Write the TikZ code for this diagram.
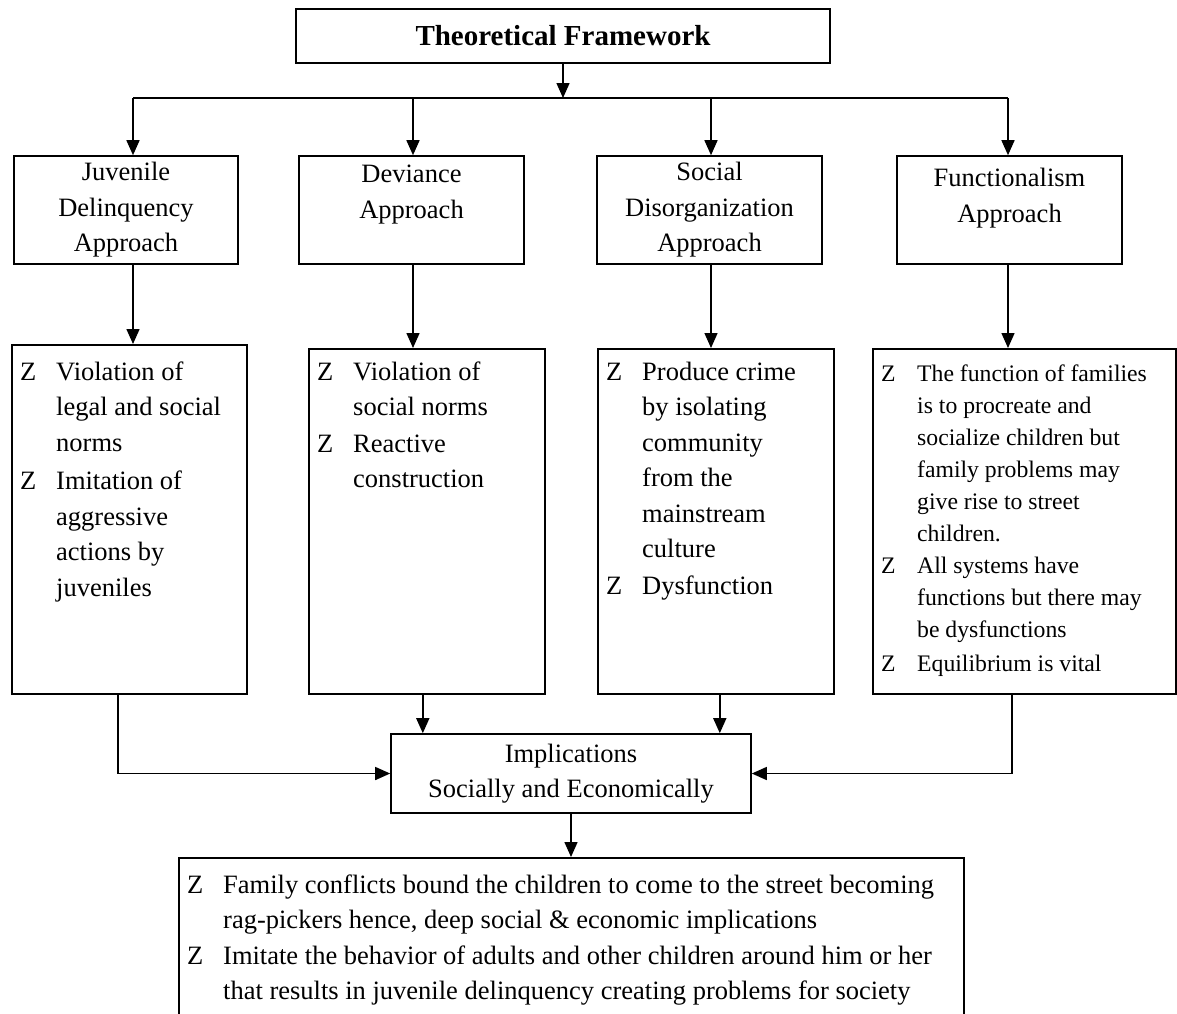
\documentclass[tikz,border=0pt]{standalone}
\usepackage{fontspec}
\setmainfont{Liberation Serif}
\usepackage{tikz}
\usetikzlibrary{positioning,arrows.meta}

\begin{document}
\begin{tikzpicture}[
  x=1pt,y=-1pt,
  font=\fontsize{26.5}{35.5}\selectfont,
  box/.style={draw,line width=1.6pt,inner sep=0pt,align=center},
  frame/.style={draw,line width=1.6pt,inner sep=0pt,anchor=north west},
  lst/.style={inner sep=0pt,anchor=north west,align=left},
  ar/.style={-{Triangle[length=15pt,width=13pt]},line width=1.5pt},
]
\path[use as bounding box,clip] (0,0) rectangle (1177,1013);
% top
\node[box,minimum width=534pt,minimum height=54pt,font=\bfseries\fontsize{29}{34}\selectfont] (tf) at (563,36) {Theoretical Framework};
\coordinate (b1) at (133,98);
\coordinate (b2) at (413,98);
\coordinate (b3) at (711,98);
\coordinate (b4) at (1008,98);
\draw[ar] (tf.south) -- (tf.south |- b1);
\draw[line width=1.5pt] (b1) -- (b4);
% approaches
\node[box,minimum width=224pt,minimum height=108pt] (jd) at (126,210) {Juvenile\\Delinquency\\Approach};
\node[box,minimum width=225pt,minimum height=108pt] (dv) at (411.5,210) {Deviance\\Approach\\[-10pt]\strut};
\node[box,minimum width=225pt,minimum height=108pt] (sd) at (709.5,210) {Social\\Disorganization\\Approach};
\node[box,minimum width=225pt,minimum height=108pt] (fn) at (1009.5,210) {Functionalism\\Approach\\[-17pt]\strut};
\foreach \b/\n in {b1/jd,b2/dv,b3/sd,b4/fn}
  \draw[ar] (\b) -- (\b |- \n.north);
% features
\node[frame,minimum width=235pt,minimum height=349pt] (jdl) at (11,344) {};
\node[frame,minimum width=236pt,minimum height=345pt] (dvl) at (308,348) {};
\node[frame,minimum width=236pt,minimum height=345pt] (sdl) at (597,348) {};
\node[frame,minimum width=303pt,minimum height=345pt] (fnl) at (872,348) {};
\foreach \b/\n/\m in {b1/jd/jdl,b2/dv/dvl,b3/sd/sdl,b4/fn/fnl}
  \draw[ar] (\b |- \n.south) -- (\b |- \m.north);
\node[lst] (jdt) at ([shift={(9,11)}]jdl.north west) {\begin{tabular}{@{}p{36pt}@{}l@{}}
Z & Violation of\\ & legal and social\\ & norms\\[3pt]
Z & Imitation of\\ & aggressive\\ & actions by\\ & juveniles
\end{tabular}};
\node[lst] (dvt) at ([shift={(9,7)}]dvl.north west) {\begin{tabular}{@{}p{36pt}@{}l@{}}
Z & Violation of\\ & social norms\\[1pt]
Z & Reactive\\ & construction
\end{tabular}};
\node[lst] (sdt) at ([shift={(9,7)}]sdl.north west) {\begin{tabular}{@{}p{36pt}@{}l@{}}
Z & Produce crime\\ & by isolating\\ & community\\ & from the\\ & mainstream\\ & culture\\[1pt]
Z & Dysfunction
\end{tabular}};
\node[lst,font=\fontsize{23.7}{32}\selectfont] (fnt) at ([shift={(9,11)}]fnl.north west) {\begin{tabular}{@{}p{36pt}@{}l@{}}
Z & The function of families\\ & is to procreate and\\ & socialize children but\\ & family problems may\\ & give rise to street\\ & children.\\
Z & All systems have\\ & functions but there may\\ & be dysfunctions\\[2pt]
Z & Equilibrium is vital
\end{tabular}};
% implications
\node[box,minimum width=360pt,minimum height=79pt] (impl) at (571,773.5) {Implications\\Socially and Economically};
\draw[ar] (jdl.south west) ++(107,0) |- (impl.west);
\draw[ar] (fnl.south west) ++(140,0) |- (impl.east);
\draw[ar] ([xshift=-4pt]dvl.south) -- ([xshift=-4pt]dvl.south |- impl.north);
\draw[ar] ([xshift=4pt]sdl.south) -- ([xshift=4pt]sdl.south |- impl.north);
% outcome (runs off the page)
\node[frame,minimum width=785pt,minimum height=200pt] (bot) at (178,857) {};
\draw[ar] (impl.south) -- (impl.south |- bot.north);
\node[lst,font=\fontsize{26.5}{35.5}\selectfont] (bott) at ([shift={(9,11)}]bot.north west) {\begin{tabular}{@{}p{36pt}@{}l@{}}
Z & Family conflicts bound the children to come to the street becoming\\
  & rag-pickers hence, deep social \& economic implications\\
Z & Imitate the behavior of adults and other children around him or her\\
  & that results in juvenile delinquency creating problems for society
\end{tabular}};
\end{tikzpicture}
\end{document}
